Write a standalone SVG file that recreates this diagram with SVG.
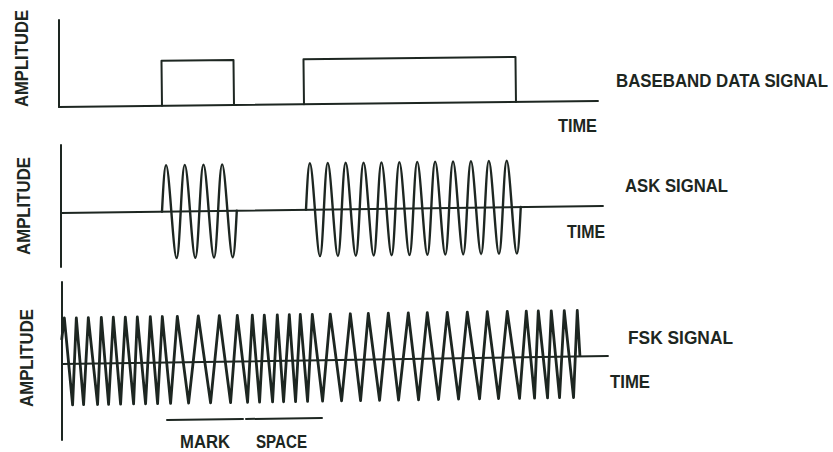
<svg xmlns="http://www.w3.org/2000/svg" width="833" height="452" viewBox="0 0 833 452">
<style>
.ln{fill:none;stroke:#1d2621;stroke-width:2;stroke-linecap:round;stroke-linejoin:round}
.wv{fill:none;stroke:#1d2621;stroke-width:2.4;stroke-linecap:round;stroke-linejoin:round}
.fsk{fill:none;stroke:#1d2621;stroke-width:2.8;stroke-linejoin:round}
.t{font-family:"Liberation Sans",Arial,sans-serif;font-weight:bold;font-size:19px;fill:#1d2621}
</style>
<rect width="833" height="452" fill="#ffffff"/>
<g id="baseband-panel">
<line class="ln" x1="59" y1="20" x2="59" y2="107"/>
<g transform="rotate(-0.64 59 107)">
<line class="ln" x1="59" y1="107" x2="598" y2="107"/>
<path class="ln" d="M162,107 V62 H234 V107 M304,107 V62 H516 V107"/>
</g>
<text class="t" transform="translate(28,107) rotate(-90)" textLength="97" lengthAdjust="spacingAndGlyphs">AMPLITUDE</text>
<text class="t" x="616" y="87" textLength="212" lengthAdjust="spacingAndGlyphs">BASEBAND DATA SIGNAL</text>
<text class="t" x="558" y="132" textLength="39" lengthAdjust="spacingAndGlyphs">TIME</text>
</g>
<g id="ask-panel">
<line class="ln" x1="61" y1="145" x2="61" y2="267"/>
<g transform="rotate(-0.74 61 213)">
<line class="ln" x1="61" y1="213" x2="603" y2="213"/>
<path class="wv" d="M162,213 c3.97,-62 5.38,-62 9.35,0 c3.97,62 5.38,62 9.35,0 c3.97,-62 5.38,-62 9.35,0 c3.97,62 5.38,62 9.35,0 c3.97,-62 5.38,-62 9.35,0 c3.97,62 5.38,62 9.35,0 c3.97,-62 5.38,-62 9.35,0 c3.97,62 5.38,62 9.35,0"/>
<path class="wv" d="M306,213 c3.8,-62 5.15,-62 8.95,0 c3.8,62 5.15,62 8.95,0 c3.8,-62 5.15,-62 8.95,0 c3.8,62 5.15,62 8.95,0 c3.8,-62 5.15,-62 8.95,0 c3.8,62 5.15,62 8.95,0 c3.8,-62 5.15,-62 8.95,0 c3.8,62 5.15,62 8.95,0 c3.8,-62 5.15,-62 8.95,0 c3.8,62 5.15,62 8.95,0 c3.8,-62 5.15,-62 8.95,0 c3.8,62 5.15,62 8.95,0 c3.8,-62 5.15,-62 8.95,0 c3.8,62 5.15,62 8.95,0 c3.8,-62 5.15,-62 8.95,0 c3.8,62 5.15,62 8.95,0 c3.8,-62 5.15,-62 8.95,0 c3.8,62 5.15,62 8.95,0 c3.8,-62 5.15,-62 8.95,0 c3.8,62 5.15,62 8.95,0 c3.8,-62 5.15,-62 8.95,0 c3.8,62 5.15,62 8.95,0 c3.8,-62 5.15,-62 8.95,0 c3.8,62 5.15,62 8.95,0"/>
</g>
<text class="t" transform="translate(30,255) rotate(-90)" textLength="98" lengthAdjust="spacingAndGlyphs">AMPLITUDE</text>
<text class="t" x="625" y="192" textLength="103" lengthAdjust="spacingAndGlyphs">ASK SIGNAL</text>
<text class="t" x="567" y="238" textLength="38" lengthAdjust="spacingAndGlyphs">TIME</text>
</g>
<g id="fsk-panel">
<line class="ln" x1="62" y1="282" x2="62" y2="440"/>
<g transform="rotate(-0.84 62 364)">
<line class="ln" x1="62" y1="364" x2="608" y2="364"/>
<polyline class="fsk" points="62,340 65,318 72,405 77,318 83,405 89,318 97,405 102,318 108,405 114,318 120,405 126,318 133,405 138,318 145,405 151,318 157,405 163,318 170,405 178,318 188,405 199,318 210,405 220,318 230,405 238,318 247,405 253,318 259,405 265,318 272,405 278,318 283,405 290,318 295,405 301,318 307,405 313,318 322,405 331,318 341,405 351,318 360,405 369,318 379,405 389,318 398,405 409,318 418,405 428,318 438,405 448,318 458,405 468,318 479,405 488,318 498,405 508,318 519,405 527,318 534,405 539,318 547,405 552,318 559,405 565,318 573,405 578,318 580,364"/>
</g>
<text class="t" transform="translate(33,407) rotate(-90)" textLength="98" lengthAdjust="spacingAndGlyphs">AMPLITUDE</text>
<text class="t" x="628" y="344" textLength="105" lengthAdjust="spacingAndGlyphs">FSK SIGNAL</text>
<text class="t" x="610" y="388" textLength="40" lengthAdjust="spacingAndGlyphs">TIME</text>
<line class="ln" x1="167" y1="420" x2="243" y2="419"/>
<line class="ln" x1="246" y1="419" x2="322" y2="418"/>
<text class="t" x="180" y="448" textLength="50" lengthAdjust="spacingAndGlyphs">MARK</text>
<text class="t" x="256" y="448" textLength="51" lengthAdjust="spacingAndGlyphs">SPACE</text>
</g>
</svg>
